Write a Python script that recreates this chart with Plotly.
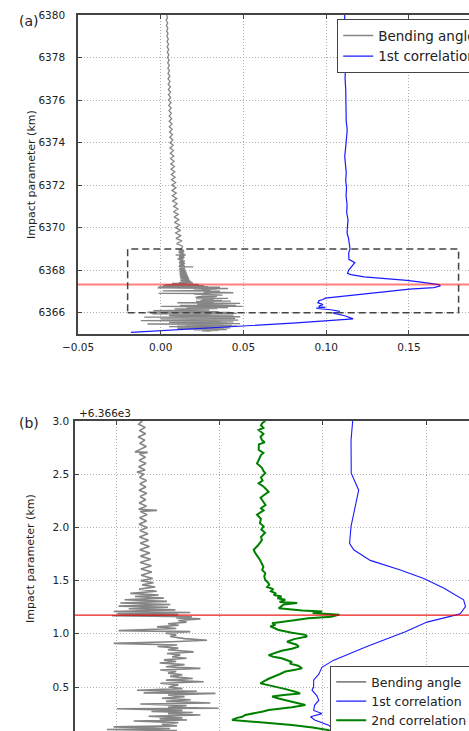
import plotly.graph_objects as go

W, H = 469, 731

# ---------------- data (impact parameter km, value) ----------------
bending = [
    (6380.000, 0.0036), (6379.875, 0.0041), (6379.750, 0.0033), (6379.625, 0.0042), (6379.500, 0.0034),
    (6379.375, 0.0043), (6379.250, 0.0036), (6379.125, 0.0044), (6379.000, 0.0037), (6378.875, 0.0046),
    (6378.750, 0.0038), (6378.625, 0.0047), (6378.500, 0.0039), (6378.375, 0.0048), (6378.250, 0.0040),
    (6378.125, 0.0049), (6378.000, 0.0041), (6377.875, 0.0051), (6377.750, 0.0042), (6377.625, 0.0052),
    (6377.500, 0.0043), (6377.375, 0.0053), (6377.250, 0.0044), (6377.125, 0.0055), (6377.000, 0.0044),
    (6376.875, 0.0056), (6376.750, 0.0045), (6376.625, 0.0058), (6376.500, 0.0046), (6376.375, 0.0059),
    (6376.250, 0.0047), (6376.125, 0.0060), (6376.000, 0.0047), (6375.875, 0.0062), (6375.750, 0.0048),
    (6375.625, 0.0063), (6375.500, 0.0050), (6375.375, 0.0064), (6375.250, 0.0051), (6375.125, 0.0066),
    (6375.000, 0.0051), (6374.875, 0.0068), (6374.750, 0.0052), (6374.625, 0.0069), (6374.500, 0.0053),
    (6374.375, 0.0071), (6374.250, 0.0055), (6374.125, 0.0073), (6374.000, 0.0056), (6373.875, 0.0075),
    (6373.750, 0.0056), (6373.625, 0.0077), (6373.500, 0.0058), (6373.375, 0.0079), (6373.250, 0.0059),
    (6373.125, 0.0081), (6373.000, 0.0061), (6372.875, 0.0083), (6372.750, 0.0062), (6372.625, 0.0085),
    (6372.500, 0.0064), (6372.375, 0.0087), (6372.250, 0.0065), (6372.125, 0.0090), (6372.000, 0.0067),
    (6371.875, 0.0092), (6371.750, 0.0068), (6371.625, 0.0094), (6371.500, 0.0070), (6371.375, 0.0097),
    (6371.250, 0.0072), (6371.125, 0.0099), (6371.000, 0.0078), (6370.875, 0.0104), (6370.750, 0.0077),
    (6370.625, 0.0107), (6370.500, 0.0080), (6370.375, 0.0111), (6370.250, 0.0083), (6370.125, 0.0114),
    (6370.000, 0.0089), (6369.875, 0.0120), (6369.750, 0.0088), (6369.625, 0.0123), (6369.500, 0.0092),
    (6369.375, 0.0128), (6369.250, 0.0096), (6369.125, 0.0132),
    (6369.00, 0.0124), (6368.97, 0.0108), (6368.94, 0.0140), (6368.91, 0.0112), (6368.88, 0.0142),
    (6368.85, 0.0106), (6368.82, 0.0138), (6368.79, 0.0113), (6368.76, 0.0145), (6368.73, 0.0110),
    (6368.71, 0.0090), (6368.705, 0.0152), (6368.69, 0.0112), (6368.66, 0.0141), (6368.63, 0.0110),
    (6368.60, 0.0144), (6368.57, 0.0108), (6368.54, 0.0139), (6368.52, 0.0100), (6368.50, 0.0135),
    (6368.47, 0.0112), (6368.44, 0.0146), (6368.41, 0.0114), (6368.38, 0.0143), (6368.35, 0.0110),
    (6368.32, 0.0147), (6368.29, 0.0115), (6368.26, 0.0142), (6368.23, 0.0111), (6368.20, 0.0146),
    (6368.17, 0.0108), (6368.16, 0.0197), (6368.15, 0.0116), (6368.12, 0.0149), (6368.09, 0.0113),
    (6368.06, 0.0146), (6368.03, 0.0110), (6368.00, 0.0150), (6367.97, 0.0114), (6367.94, 0.0153),
    (6367.91, 0.0112), (6367.88, 0.0156), (6367.85, 0.0116), (6367.82, 0.0160), (6367.79, 0.0113),
    (6367.76, 0.0162), (6367.73, 0.0117), (6367.70, 0.0166), (6367.67, 0.0115), (6367.64, 0.0170),
    (6367.61, 0.0119), (6367.58, 0.0172), (6367.55, 0.0120), (6367.52, 0.0176), (6367.50, 0.0118),
    (6367.48, 0.0180), (6367.46, 0.0125), (6367.44, 0.0188), (6367.42, 0.0110), (6367.40, 0.0195),
    (6367.38, 0.0068), (6367.365, 0.0205), (6367.35, 0.0090), (6367.335, 0.0230), (6367.32, 0.0040),
    (6367.305, 0.0245), (6367.29, 0.0019), (6367.275, 0.0261), (6367.26, 0.0011), (6367.25, 0.0250),
    (6367.235, 0.0060), (6367.225, 0.0286), (6367.21, -0.0013), (6367.20, 0.0358), (6367.19, 0.0005),
    (6367.18, 0.0300), (6367.17, -0.0020), (6367.16, 0.0366), (6367.15, 0.0290), (6367.14, 0.0407),
    (6367.125, 0.0300), (6367.11, 0.0340), (6367.095, 0.0250), (6367.08, 0.0302), (6367.065, 0.0197),
    (6367.05, 0.0290), (6367.03, 0.0011), (6367.02, 0.0358), (6367.005, 0.0240), (6366.99, 0.0290),
    (6366.975, 0.0260), (6366.955, 0.0330), (6366.94, 0.0439), (6366.925, 0.0270), (6366.91, -0.0013),
    (6366.895, 0.0294), (6366.88, 0.0200), (6366.865, 0.0300), (6366.85, 0.0250), (6366.83, 0.0374),
    (6366.815, 0.0245), (6366.80, 0.0310), (6366.785, 0.0270), (6366.77, 0.0340), (6366.755, 0.0230),
    (6366.74, 0.0290), (6366.725, 0.0210), (6366.71, 0.0330), (6366.69, 0.0240), (6366.675, 0.0407),
    (6366.66, 0.0213), (6366.645, 0.0290), (6366.63, 0.0250), (6366.615, 0.0320), (6366.60, 0.0260),
    (6366.58, 0.0370), (6366.565, 0.0240), (6366.55, 0.0423), (6366.535, 0.0213), (6366.52, 0.0300),
    (6366.50, 0.0255), (6366.485, 0.0320), (6366.47, 0.0100), (6366.46, 0.0390), (6366.445, 0.0132),
    (6366.44, 0.0480), (6366.425, 0.0250), (6366.41, 0.0330), (6366.395, 0.0220), (6366.38, 0.0360),
    (6366.365, 0.0240), (6366.35, 0.0455), (6366.34, 0.0116), (6366.325, 0.0340), (6366.31, 0.0250),
    (6366.30, 0.0495), (6366.295, 0.0003), (6366.28, 0.0320), (6366.27, 0.0170), (6366.26, 0.0370),
    (6366.25, 0.0250), (6366.237, 0.0407), (6366.225, 0.0156), (6366.21, 0.0320), (6366.20, 0.0210),
    (6366.19, 0.0342), (6366.18, 0.0084), (6366.165, 0.0300), (6366.15, 0.0220), (6366.135, 0.0294),
    (6366.125, -0.0013), (6366.11, 0.0260), (6366.10, -0.0045), (6366.09, 0.0294), (6366.07, 0.0180),
    (6366.05, 0.0350), (6366.03, -0.0080), (6366.01, 0.0420), (6365.99, 0.0200), (6365.97, 0.0460),
    (6365.95, -0.0050), (6365.93, 0.0300), (6365.91, 0.0150), (6365.89, 0.0440), (6365.87, 0.0050),
    (6365.85, 0.0380), (6365.83, 0.0200), (6365.81, 0.0480), (6365.79, -0.0100), (6365.77, 0.0350),
    (6365.75, 0.0150), (6365.73, 0.0450), (6365.71, 0.0000), (6365.69, 0.0400), (6365.67, 0.0200),
    (6365.65, 0.0470), (6365.63, -0.0120), (6365.61, 0.0360), (6365.59, 0.0180), (6365.57, 0.0440),
    (6365.55, 0.0050), (6365.53, 0.0400), (6365.51, 0.0220), (6365.49, 0.0480), (6365.47, -0.0080),
    (6365.45, 0.0380), (6365.43, 0.0100), (6365.41, 0.0430), (6365.39, 0.0150), (6365.37, 0.0460),
    (6365.35, 0.0050), (6365.33, 0.0400), (6365.31, 0.0200), (6365.29, 0.0420), (6365.27, 0.0100),
    (6365.25, 0.0380), (6365.23, 0.0150), (6365.21, 0.0400), (6365.19, 0.0200), (6365.17, 0.0350),
    (6365.15, 0.0250), (6365.13, 0.0300),
]

corr1 = [
    (6380.00, 0.1112), (6379.50, 0.1110), (6379.00, 0.1113), (6378.50, 0.1111), (6378.00, 0.1112),
    (6377.50, 0.1116), (6377.00, 0.1114), (6376.50, 0.1118), (6376.00, 0.1119), (6375.50, 0.1123),
    (6375.00, 0.1121), (6374.60, 0.1127), (6374.20, 0.1124), (6373.80, 0.1118), (6373.35, 0.1112),
    (6373.00, 0.1117), (6372.60, 0.1121), (6372.20, 0.1118), (6371.90, 0.1123), (6371.50, 0.1120),
    (6371.10, 0.1126), (6370.70, 0.1124), (6370.37, 0.1132), (6370.00, 0.1128), (6369.75, 0.1126),
    (6369.50, 0.1135), (6369.20, 0.1140), (6369.00, 0.1144), (6368.82, 0.1136), (6368.51, 0.1137),
    (6368.35, 0.1173), (6368.19, 0.1157), (6368.01, 0.1136), (6367.85, 0.1129), (6367.79, 0.1149),
    (6367.69, 0.1229), (6367.60, 0.1375), (6367.52, 0.1488), (6367.43, 0.1584), (6367.32, 0.1681),
    (6367.255, 0.1690), (6367.19, 0.1665), (6367.18, 0.1650), (6367.11, 0.1504), (6367.02, 0.1399),
    (6366.88, 0.1213), (6366.75, 0.1050), (6366.685, 0.0995), (6366.62, 0.0980), (6366.565, 0.0955),
    (6366.50, 0.0955), (6366.47, 0.0947), (6366.42, 0.0970), (6366.375, 0.0980), (6366.33, 0.0960),
    (6366.28, 0.0955), (6366.25, 0.0995), (6366.22, 0.0940), (6366.19, 0.0960), (6366.14, 0.1028),
    (6366.06, 0.1082), (6365.98, 0.1042), (6365.86, 0.1112), (6365.71, 0.1163), (6365.52, 0.0820),
    (6365.33, 0.0417), (6365.08, -0.0180),
]

corr2 = [
    (6369.00, 0.0721), (6368.98, 0.0706), (6368.96, 0.0700), (6368.935, 0.0712), (6368.915, 0.0689),
    (6368.88, 0.0712), (6368.85, 0.0698), (6368.82, 0.0705), (6368.80, 0.0718), (6368.78, 0.0690),
    (6368.73, 0.0689), (6368.70, 0.0712), (6368.68, 0.0700), (6368.66, 0.0695), (6368.63, 0.0690),
    (6368.60, 0.0681), (6368.56, 0.0705), (6368.53, 0.0712), (6368.51, 0.0721), (6368.47, 0.0700),
    (6368.44, 0.0708), (6368.415, 0.0689), (6368.38, 0.0715), (6368.335, 0.0737), (6368.30, 0.0712),
    (6368.28, 0.0698), (6368.26, 0.0705), (6368.23, 0.0716), (6368.21, 0.0722), (6368.18, 0.0700),
    (6368.16, 0.0713), (6368.12, 0.0681), (6368.08, 0.0700), (6368.04, 0.0695), (6368.01, 0.0713),
    (6367.98, 0.0702), (6367.95, 0.0720), (6367.91, 0.0700), (6367.88, 0.0705), (6367.83, 0.0685),
    (6367.79, 0.0665), (6367.76, 0.0672), (6367.74, 0.0680), (6367.71, 0.0690), (6367.69, 0.0697),
    (6367.66, 0.0704), (6367.63, 0.0712), (6367.60, 0.0706), (6367.57, 0.0721), (6367.54, 0.0716),
    (6367.505, 0.0721), (6367.48, 0.0735), (6367.46, 0.0740), (6367.44, 0.0730), (6367.42, 0.0760),
    (6367.40, 0.0748), (6367.38, 0.0770), (6367.365, 0.0762), (6367.35, 0.0800), (6367.335, 0.0780),
    (6367.32, 0.0818), (6367.30, 0.0790), (6367.29, 0.0875), (6367.275, 0.0810), (6367.26, 0.0800),
    (6367.24, 0.0786), (6367.22, 0.0900), (6367.21, 0.0996), (6367.195, 0.0950), (6367.18, 0.1080),
    (6367.16, 0.1040), (6367.146, 0.0930), (6367.13, 0.0870), (6367.113, 0.0802), (6367.10, 0.0754),
    (6367.085, 0.0770), (6367.07, 0.0745), (6367.05, 0.0770), (6367.035, 0.0786), (6367.01, 0.0850),
    (6366.99, 0.0915), (6366.975, 0.0923), (6366.96, 0.0890), (6366.95, 0.0860), (6366.925, 0.0826),
    (6366.90, 0.0870), (6366.88, 0.0883), (6366.86, 0.0850), (6366.84, 0.0800), (6366.82, 0.0770),
    (6366.80, 0.0737), (6366.785, 0.0760), (6366.77, 0.0800), (6366.735, 0.0850), (6366.72, 0.0840),
    (6366.70, 0.0880), (6366.675, 0.0899), (6366.66, 0.0860), (6366.645, 0.0818), (6366.62, 0.0790),
    (6366.60, 0.0760), (6366.58, 0.0740), (6366.56, 0.0720), (6366.535, 0.0697), (6366.52, 0.0730),
    (6366.50, 0.0780), (6366.48, 0.0820), (6366.455, 0.0866), (6366.44, 0.0890), (6366.425, 0.0810),
    (6366.41, 0.0754), (6366.39, 0.0790), (6366.37, 0.0830), (6366.35, 0.0880), (6366.33, 0.0915),
    (6366.31, 0.0850), (6366.30, 0.0800), (6366.284, 0.0737), (6366.27, 0.0710), (6366.26, 0.0680),
    (6366.237, 0.0624), (6366.22, 0.0610), (6366.21, 0.0584), (6366.19, 0.0560), (6366.17, 0.0700),
    (6366.155, 0.0780), (6366.143, 0.0850), (6366.12, 0.0950), (6366.095, 0.1028), (6366.07, 0.1040),
    (6366.05, 0.1000),
]

red_level_a = 6367.33
red_level_b = 6367.175
zoom_box_x = [-0.02, 0.18]
zoom_box_y = [6366.0, 6369.0]

xa_range = [-0.05, 0.1863]
ya_range = [6365.0, 6380.0]
xb_range = [-0.02, 0.1707]
yb_range = [6366.0865, 6369.0]
yb_tickvals = [6366.5, 6367.0, 6367.5, 6368.0, 6368.5, 6369.0]
yb_ticktext = ["0.5", "1.0", "1.5", "2.0", "2.5", "3.0"]

names = ["Bending angle", "1st correlation", "2nd correlation"]

# ---------------- figure ----------------
FONT = "DejaVu Sans"
GREY = "#858585"
BLUE = "#1a1aff"
GREEN = "#008000"


def unzip(pairs):
    return [p[0] for p in pairs], [p[1] for p in pairs]


bk, bv = unzip(bending)
c1k, c1v = unzip(corr1)
c2k, c2v = unzip(corr2)

fig = go.Figure()

# panel (a)
fig.add_trace(go.Scatter(x=bv, y=bk, mode="lines", name=names[0],
                         line=dict(color=GREY, width=1.3), xaxis="x", yaxis="y", legend="legend"))
fig.add_trace(go.Scatter(x=c1v, y=c1k, mode="lines", name=names[1],
                         line=dict(color=BLUE, width=1.2), xaxis="x", yaxis="y", legend="legend"))
# panel (b)
fig.add_trace(go.Scatter(x=bv, y=bk, mode="lines", name=names[0],
                         line=dict(color=GREY, width=1.6), xaxis="x2", yaxis="y2", legend="legend2"))
fig.add_trace(go.Scatter(x=c1v, y=c1k, mode="lines", name=names[1],
                         line=dict(color=BLUE, width=1.1), xaxis="x2", yaxis="y2", legend="legend2"))
fig.add_trace(go.Scatter(x=c2v, y=c2k, mode="lines", name=names[2],
                         line=dict(color=GREEN, width=2), xaxis="x2", yaxis="y2", legend="legend2"))

# shapes
fig.add_shape(type="line", xref="x domain", yref="y", x0=0, x1=1, y0=red_level_a, y1=red_level_a,
              line=dict(color="rgba(255,0,0,0.5)", width=2), layer="above")
fig.add_shape(type="rect", xref="x", yref="y", x0=zoom_box_x[0], x1=zoom_box_x[1],
              y0=zoom_box_y[0], y1=zoom_box_y[1],
              line=dict(color="#444444", width=1.5, dash="7px,4px"), layer="above")
fig.add_shape(type="line", xref="x2 domain", yref="y2", x0=0, x1=1, y0=red_level_b, y1=red_level_b,
              line=dict(color="rgba(235,0,0,0.9)", width=1.2), layer="above")

tickfont = dict(family=FONT, size=10.5, color="#222222")
grid = dict(showgrid=True, gridcolor="#b0b0b0", gridwidth=1, griddash="1px,2px", zeroline=False)

ya_top = 1 - 15 / H
ya_bot = 1 - 334 / H
yb_top = 1 - 421 / H


def label(text, px, py, size, angle=0, xanchor="center"):
    return dict(text=text, x=px / W, y=1 - py / H, xref="paper", yref="paper",
                xanchor=xanchor, yanchor="middle", showarrow=False, textangle=angle,
                font=dict(family=FONT, size=size, color="#222222"))


fig.update_layout(
    width=W, height=H,
    margin=dict(l=0, r=0, t=0, b=0, autoexpand=False),
    paper_bgcolor="white", plot_bgcolor="white",
    font=dict(family=FONT, color="#222222"),
    hovermode=False,
    xaxis=dict(domain=[78 / W, 1], anchor="y", range=xa_range, tick0=0, dtick=0.05,
               tickformat=".2f", tickfont=tickfont, ticks="inside", ticklen=4,
               tickcolor="#444444", showline=True, linecolor="#444444", linewidth=1.5,
               mirror="ticks", ticklabelstandoff=3, **grid),
    yaxis=dict(domain=[ya_bot, ya_top], anchor="x", range=ya_range, tick0=6366, dtick=2,
               tickfont=tickfont, ticks="inside", ticklen=4, tickcolor="#444444",
               showline=True, linecolor="#444444", linewidth=1.5, mirror=False,
               ticklabelstandoff=9, **grid),
    xaxis2=dict(domain=[75 / W, 1], anchor="y2", range=xb_range, tick0=0, dtick=0.05,
                side="top", showticklabels=False, ticks="inside", ticklen=4,
                tickcolor="#444444", showline=True, linecolor="#444444", linewidth=1.5,
                mirror=False, **grid),
    yaxis2=dict(domain=[0, yb_top], anchor="x2", range=yb_range, tickvals=yb_tickvals,
                ticktext=yb_ticktext, tickfont=tickfont, ticks="inside", ticklen=4,
                tickcolor="#444444", showline=True, linecolor="#444444", linewidth=1.5,
                mirror=False, ticklabelstandoff=2, **grid),
    legend=dict(x=337 / W, y=1 - 19 / H, xanchor="left", yanchor="top",
                bgcolor="white", bordercolor="#444444", borderwidth=1.2,
                font=dict(family=FONT, size=13.5, color="#222222")),
    legend2=dict(x=330 / W, y=1 - 666 / H, xanchor="left", yanchor="top",
                 bgcolor="white", bordercolor="#444444", borderwidth=1.2,
                 font=dict(family=FONT, size=12.5, color="#222222")),
    annotations=[
        label("(a)", 29, 21, 14),
        label("(b)", 29, 423, 14),
        label("Impact parameter (km)", 32, 175, 11, angle=-90),
        label("Impact parameter (km)", 30, 559, 11, angle=-90),
        label("+6.366e3", 77, 413, 10.5, xanchor="left"),
    ],
)

fig.write_html("out.html")
